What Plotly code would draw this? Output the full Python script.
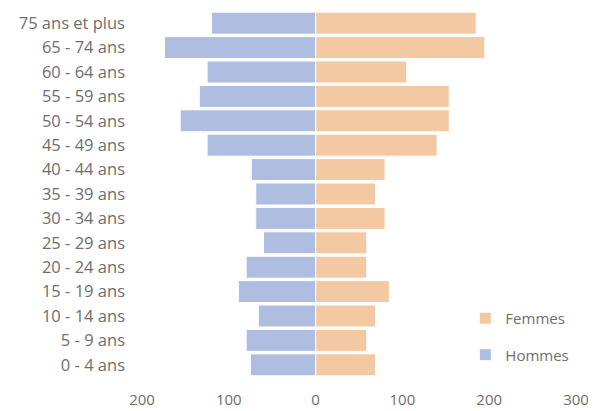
import plotly.graph_objects as go

categories = ["0 - 4 ans", "5 - 9 ans", "10 - 14 ans", "15 - 19 ans", "20 - 24 ans",
              "25 - 29 ans", "30 - 34 ans", "35 - 39 ans", "40 - 44 ans", "45 - 49 ans",
              "50 - 54 ans", "55 - 59 ans", "60 - 64 ans", "65 - 74 ans", "75 ans et plus"]
hommes = [75, 80, 66, 89, 80, 60, 69, 69, 74, 125, 156, 134, 125, 174, 120]
femmes = [69, 59, 69, 85, 59, 59, 80, 69, 80, 140, 154, 154, 105, 195, 185]
tick_vals = [-200, -100, 0, 100, 200, 300]
tick_text = ["200", "100", "0", "100", "200", "300"]

font_family = "Open Sans"
text_color = "#6e6e6e"

fig = go.Figure()
fig.add_trace(go.Bar(
    y=categories, x=femmes, orientation="h", name="Femmes",
    marker=dict(color="#f2c9a3", line=dict(color="#ffffff", width=1)),
    legendgroup="f",
))
fig.add_trace(go.Bar(
    y=categories, x=[-v for v in hommes], orientation="h", name="Hommes",
    marker=dict(color="#afbde0", line=dict(color="#ffffff", width=1)),
    legendgroup="h",
))

# Page body has an 8px margin: figure is sized so it fits the 596x411 window.
fig.update_layout(
    width=588, height=403,
    margin=dict(l=134, r=20, t=3, b=34),
    barmode="relative",
    bargap=0.1,
    plot_bgcolor="white", paper_bgcolor="white",
    font=dict(family=font_family, size=16.5, color=text_color),
    showlegend=True,
    legend=dict(x=0.745, y=0.205, xanchor="left", yanchor="top",
                traceorder="grouped", tracegroupgap=14, itemwidth=30,
                bgcolor="rgba(0,0,0,0)", font=dict(size=15, color=text_color)),
    xaxis=dict(range=[-200, 300], tickvals=tick_vals, ticktext=tick_text,
               showgrid=False, zeroline=False, showline=False, automargin=False,
               ticks="", ticklabelstandoff=12, tickfont=dict(size=15)),
    yaxis=dict(showgrid=False, zeroline=False, showline=False, automargin=False,
               ticks="", ticklabelstandoff=16, categoryorder="array",
               categoryarray=categories),
)

fig.write_html("out.html")
